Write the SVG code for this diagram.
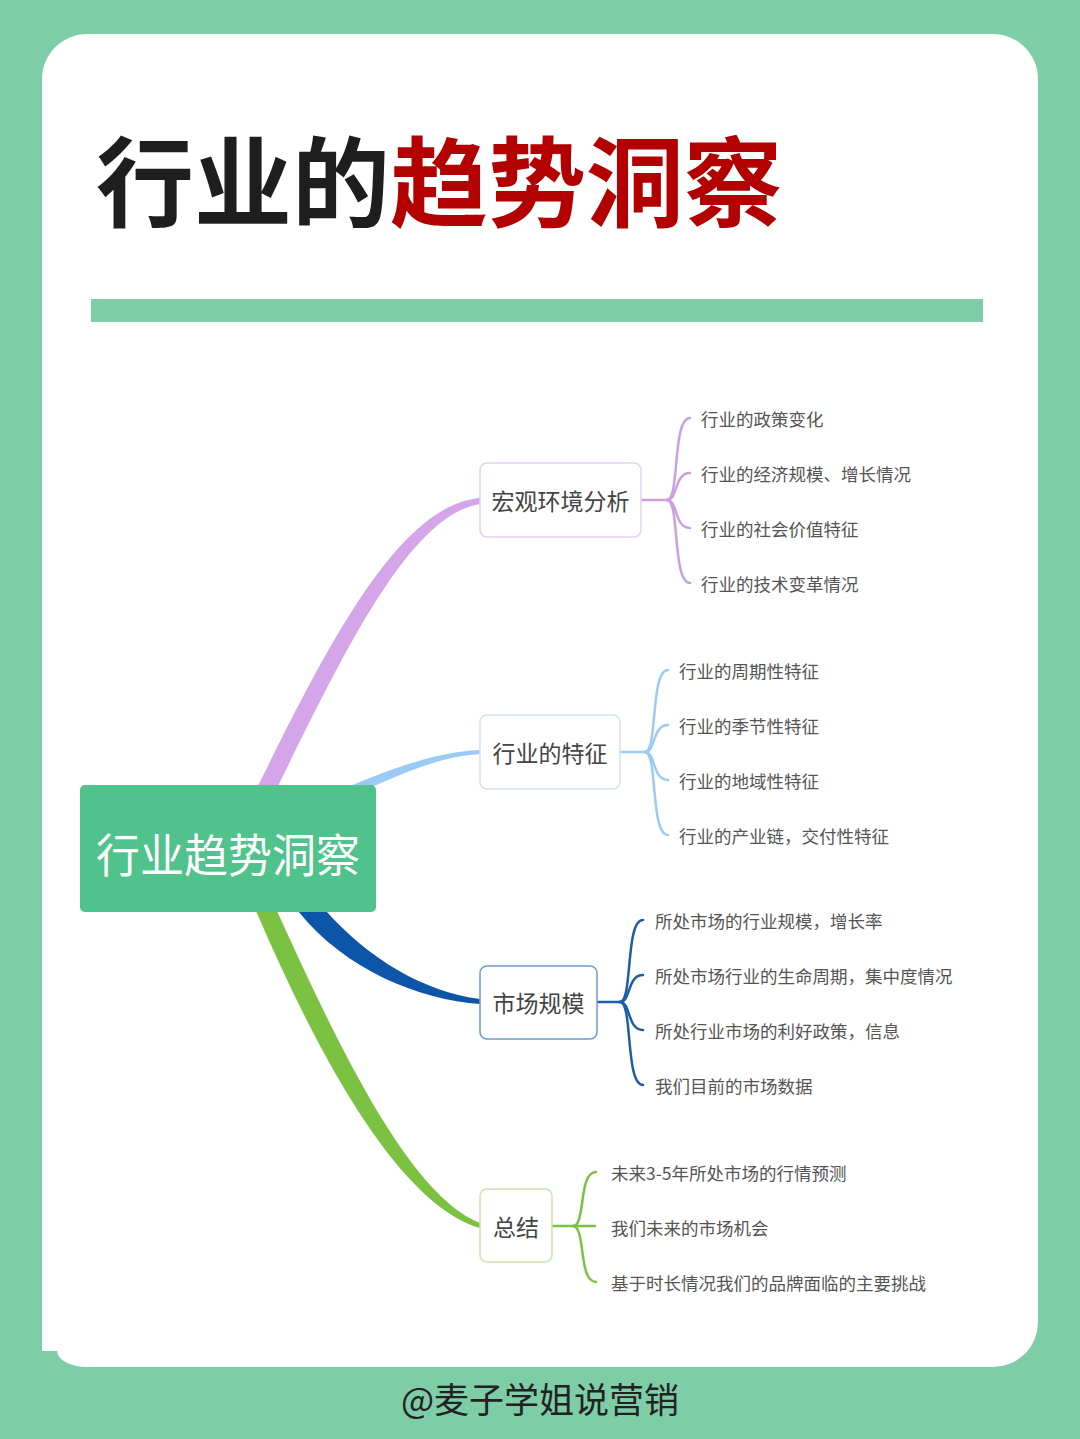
<svg xmlns="http://www.w3.org/2000/svg" width="1080" height="1439" viewBox="0 0 1080 1439">
  <style>
    .cjk { font-family: "Noto Sans CJK SC", "Noto Sans", sans-serif; }
    .leaf { font-size: 17.5px; fill: #555555; dominant-baseline: central; }
    .sub { font-size: 23px; fill: #444444; dominant-baseline: central; text-anchor: middle; }
    .box { fill: #ffffff; stroke-width: 1.5; }
    .br { fill: none; stroke-width: 2.5; stroke-linecap: round; }
  </style>
  <rect x="0" y="0" width="1080" height="1439" fill="#7DCDA7"/>
  <path d="M 87,34 H 993 A 45,45 0 0 1 1038,79 V 1322 A 45,45 0 0 1 993,1367 H 87 A 30,16 0 0 1 57,1351 H 42 V 79 A 45,45 0 0 1 87,34 Z" fill="#ffffff"/>

  <g id="title">
    <text class="cjk" x="96" y="176" font-size="98" font-weight="700" dominant-baseline="central"><tspan fill="#1E1E1E">行业的</tspan><tspan fill="#B30000">趋势洞察</tspan></text>
  </g>
  <rect id="divider" x="91" y="299" width="892" height="23" fill="#7DCDA7"/>

  <g id="connectors">
    <path d="M 258,786 C 330,640 400,505 480,498 L 480,504 C 410,515 345,650 278,786 Z" fill="#D4A5E8"/>
    <path d="M 350,786 C 400,765 440,752 480,750 L 480,754 C 445,756 410,770 374,786 Z" fill="#9ACBF5"/>
    <path d="M 326,911 C 370,960 425,992 480,999 L 480,1004 C 420,1000 345,970 298,911 Z" fill="#0D55A6"/>
    <path d="M 277,911 C 340,1050 410,1195 480,1223 L 480,1228 C 400,1205 320,1060 256,911 Z" fill="#7CC242"/>

    <g stroke="#CBA0E0" class="br">
      <path class="br" d="M 641,500 H 667"/>
      <path class="br" d="M 667,500 C 680,500 672,418 690,418"/>
      <path class="br" d="M 667,500 C 678,500 674,473 690,473"/>
      <path class="br" d="M 667,500 C 678,500 674,528 690,528"/>
      <path class="br" d="M 667,500 C 680,500 672,583 690,583"/>
    </g>
    <g stroke="#9ACBF5" class="br">
      <path class="br" d="M 620,752 H 645"/>
      <path class="br" d="M 645,752 C 658,752 650,670 668,670"/>
      <path class="br" d="M 645,752 C 656,752 652,725 668,725"/>
      <path class="br" d="M 645,752 C 656,752 652,780 668,780"/>
      <path class="br" d="M 645,752 C 658,752 650,835 668,835"/>
    </g>
    <g stroke="#1D5EA8" class="br">
      <path class="br" d="M 597,1002 H 620"/>
      <path class="br" d="M 620,1002 C 633,1002 625,920 643,920"/>
      <path class="br" d="M 620,1002 C 631,1002 627,975 643,975"/>
      <path class="br" d="M 620,1002 C 631,1002 627,1030 643,1030"/>
      <path class="br" d="M 620,1002 C 633,1002 625,1085 643,1085"/>
    </g>
    <g stroke="#7CC242" class="br">
      <path class="br" d="M 552,1226 H 595"/>
      <path class="br" d="M 573,1226 C 586,1226 578,1172 596,1172"/>
      <path class="br" d="M 573,1226 C 586,1226 578,1282 596,1282"/>
    </g>
  </g>

  <g id="root">
    <rect x="80" y="785" width="296" height="127" rx="5" fill="#50C28B"/>
    <text class="cjk" x="228" y="852" font-size="46" fill="#ffffff" text-anchor="middle" dominant-baseline="central" textLength="264" lengthAdjust="spacingAndGlyphs">行业趋势洞察</text>
  </g>

  <g id="node-macro">
    <rect class="box" x="480" y="463" width="161" height="74" rx="7" stroke="#E5D0F2"/>
    <text class="cjk sub" x="560.5" y="500">宏观环境分析</text>
  </g>
  <g id="node-feature">
    <rect class="box" x="480" y="715" width="140" height="74" rx="7" stroke="#CFE2F6"/>
    <text class="cjk sub" x="550" y="752">行业的特征</text>
  </g>
  <g id="node-market">
    <rect class="box" x="480" y="966" width="117" height="73" rx="7" stroke="#6D9BD0"/>
    <text class="cjk sub" x="538.5" y="1002">市场规模</text>
  </g>
  <g id="node-summary">
    <rect class="box" x="480" y="1189" width="72" height="73" rx="7" stroke="#C9E5B0"/>
    <text class="cjk sub" x="516" y="1226">总结</text>
  </g>

  <g id="leaves-macro">
    <text class="cjk leaf" x="701" y="418">行业的政策变化</text>
    <text class="cjk leaf" x="701" y="473">行业的经济规模、增长情况</text>
    <text class="cjk leaf" x="701" y="528">行业的社会价值特征</text>
    <text class="cjk leaf" x="701" y="583">行业的技术变革情况</text>
  </g>
  <g id="leaves-feature">
    <text class="cjk leaf" x="679" y="670">行业的周期性特征</text>
    <text class="cjk leaf" x="679" y="725">行业的季节性特征</text>
    <text class="cjk leaf" x="679" y="780">行业的地域性特征</text>
    <text class="cjk leaf" x="679" y="835">行业的产业链，交付性特征</text>
  </g>
  <g id="leaves-market">
    <text class="cjk leaf" x="655" y="920">所处市场的行业规模，增长率</text>
    <text class="cjk leaf" x="655" y="975">所处市场行业的生命周期，集中度情况</text>
    <text class="cjk leaf" x="655" y="1030">所处行业市场的利好政策，信息</text>
    <text class="cjk leaf" x="655" y="1085">我们目前的市场数据</text>
  </g>
  <g id="leaves-summary">
    <text class="cjk leaf" x="611" y="1172">未来3-5年所处市场的行情预测</text>
    <text class="cjk leaf" x="611" y="1227">我们未来的市场机会</text>
    <text class="cjk leaf" x="611" y="1282">基于时长情况我们的品牌面临的主要挑战</text>
  </g>

  <g id="footer">
    <text class="cjk" x="540" y="1397" font-size="35" fill="#222222" text-anchor="middle" dominant-baseline="central">@麦子学姐说营销</text>
  </g>
</svg>
